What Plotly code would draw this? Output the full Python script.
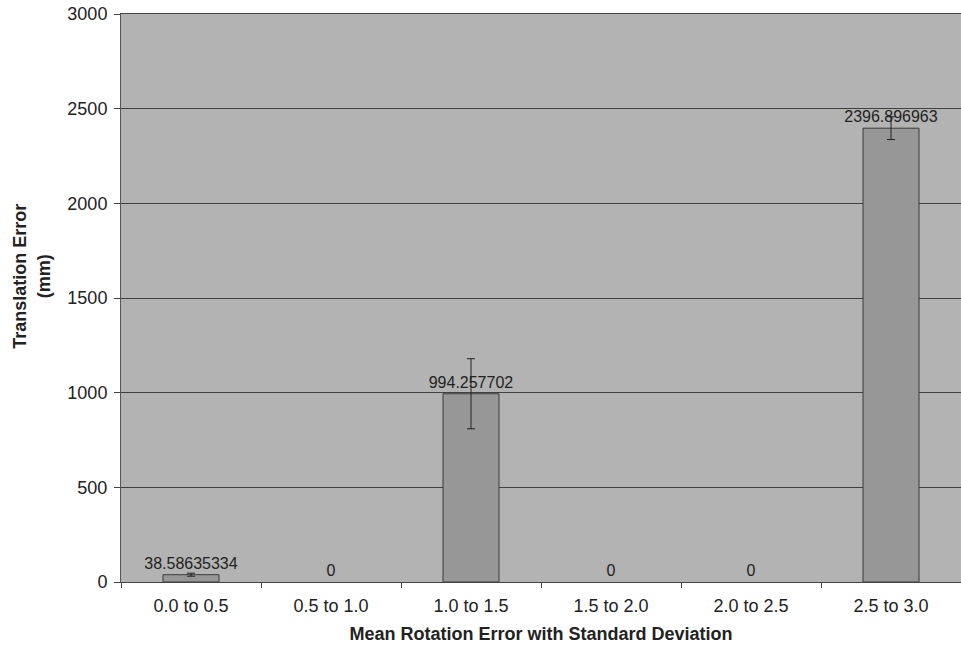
import plotly.graph_objects as go

categories = ["0.0 to 0.5", "0.5 to 1.0", "1.0 to 1.5", "1.5 to 2.0", "2.0 to 2.5", "2.5 to 3.0"]
values = [38.58635334, 0, 994.257702, 0, 0, 2396.896963]
errors = [8, 0, 185, 0, 0, 60]
labels = ["38.58635334", "0", "994.257702", "0", "0", "2396.896963"]

FONT = "Liberation Sans, Arial"

fig = go.Figure()
fig.add_trace(go.Bar(
    x=categories, y=values, text=labels, textposition="outside",
    textfont=dict(family=FONT, size=16, color="#222222"),
    constraintext="none", cliponaxis=False,
    marker=dict(color="#979797",
                line=dict(color="#3a3a3a", width=[1 if v > 0 else 0 for v in values])),
    width=0.4, hoverinfo="skip",
))
nz = [i for i, e in enumerate(errors) if e > 0]
fig.add_trace(go.Scatter(
    x=[categories[i] for i in nz], y=[values[i] for i in nz],
    mode="markers", marker=dict(size=1, opacity=0),
    error_y=dict(type="data", array=[errors[i] for i in nz], visible=True,
                 color="#222222", thickness=1, width=4),
    hoverinfo="skip",
))
fig.update_layout(
    width=961, height=651,
    margin=dict(l=121, r=0, t=14, b=69, autoexpand=False),
    paper_bgcolor="white", plot_bgcolor="#b3b3b3",
    showlegend=False,
    font=dict(family=FONT, size=18, color="#222222"),
    xaxis=dict(
        tickson="boundaries", ticks="outside", ticklen=5, tickcolor="#444444",
        showline=True, linecolor="#444444", linewidth=1, automargin=False, mirror=True,
        tickfont=dict(size=18), ticklabelstandoff=7,
        title=dict(text="<b>Mean Rotation Error with Standard Deviation</b>", font=dict(size=18), standoff=12),
    ),
    yaxis=dict(
        range=[0, 3000], dtick=500, ticks="outside", ticklen=6, tickcolor="#444444",
        showline=True, linecolor="#555555", linewidth=1, automargin=False,
        gridcolor="#404040", gridwidth=1, zeroline=False,
        tickfont=dict(size=18), ticklabelstandoff=3,
    ),
    annotations=[dict(
        text="<b>Translation Error<br>(mm)</b>", textangle=-90,
        xref="paper", yref="paper", x=-0.106, y=0.539,
        xanchor="center", yanchor="middle", showarrow=False,
        font=dict(family=FONT, size=18, color="#222222"),
    )],
)
fig.write_html("out.html", config={"displayModeBar": False},
               post_script="document.body.style.margin='0';")
